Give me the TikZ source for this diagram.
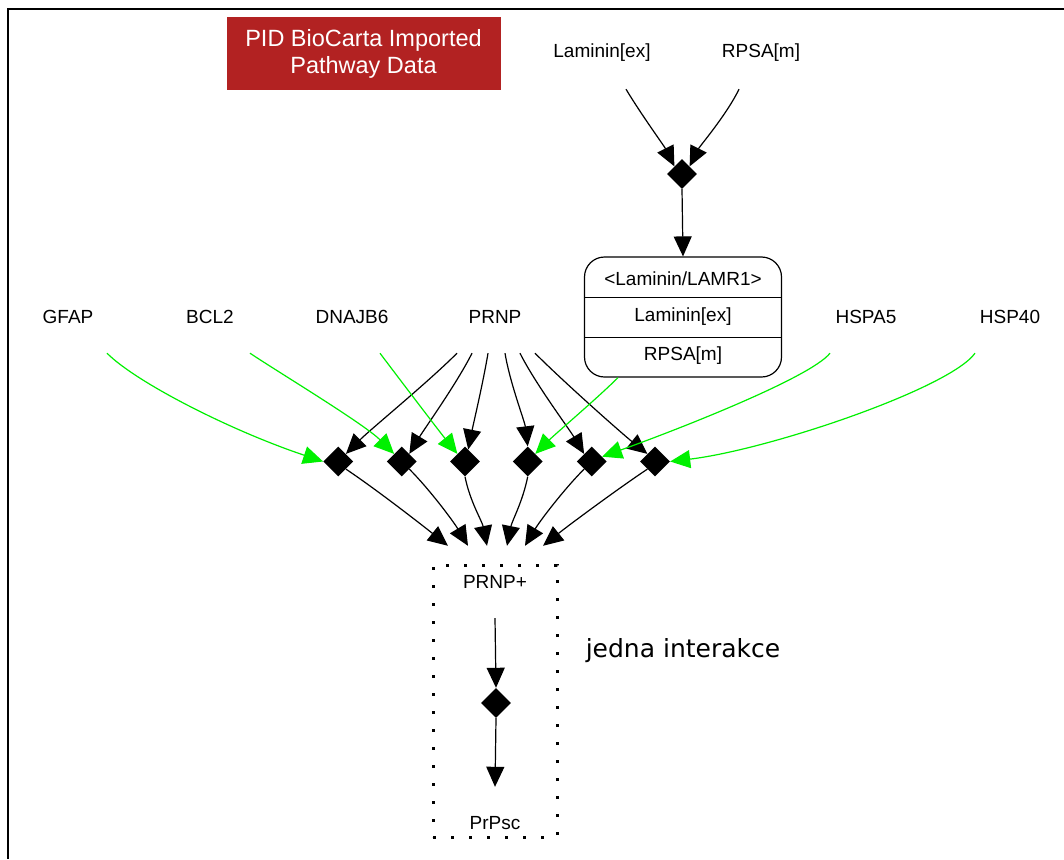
\documentclass[tikz,border=0pt]{standalone}
\usepackage{fontspec}
\setmainfont{Liberation Sans}
\newfontfamily\notefont{DejaVu Sans}
\usetikzlibrary{shapes.geometric,arrows.meta,calc}
\definecolor{pidred}{RGB}{178,34,34}
\definecolor{actgreen}{RGB}{0,240,0}
\tikzset{
  lbl/.style={font=\fontsize{19}{22}\selectfont, minimum height=72pt, inner sep=0pt},
  txt/.style={font=\fontsize{19}{22}\selectfont, inner sep=0pt},
  rxn/.style={diamond, fill=black, inner sep=0pt, minimum width=30pt, minimum height=30pt},
  edge/.style={line width=1.2pt, -{Triangle[length=20pt,width=18pt]}},
  actv/.style={edge, draw=actgreen},
  thin line/.style={line width=1.2pt},
}
\begin{document}
\begin{tikzpicture}[x=1pt,y=-1pt]
\useasboundingbox (0,0) rectangle (1064,859);
\fill[white] (0,0) rectangle (1064,859);
\draw[line width=2.5pt] (1064,9) -- (8,9) -- (8,859);

% title box
\node[fill=pidred, text=white, minimum width=274pt, minimum height=72pt, inner sep=0pt,
      align=center, font=\fontsize{23.5}{27}\selectfont] (pid) at (363.5,53.5)
      {PID BioCarta Imported\\Pathway Data};

% top reaction
\node[lbl] (lam) at (602,53) {Laminin[ex]};
\node[lbl] (rpsa) at (761,53) {RPSA[m]};
\node[rxn] (d0) at (682,174) {};
\draw[edge] ($(lam.south)+(24,0)$) .. controls +(15,25) and +(-10,-20) .. (d0.north west);
\draw[edge] ($(rpsa.south)+(-22,0)$) .. controls +(-12,25) and +(10,-20) .. (d0.north east);

% complex
\node[draw, thin line, rounded corners=20pt, minimum width=197pt, minimum height=120pt, inner sep=0pt] (cx) at (683,317) {};
\draw[thin line] ($(cx.north west)+(0,41)$) -- ($(cx.north east)+(0,41)$);
\draw[thin line] ($(cx.north west)+(0,81)$) -- ($(cx.north east)+(0,81)$);
\node[txt] (cxa) at (683,279) {<Laminin/LAMR1>};
\node[txt] (cxb) at (683,317) {Laminin[ex]};
\node[txt] (cxc) at (683,356) {RPSA[m]};
\draw[edge] (d0.south) -- (cx.north);

% row of labels
\node[lbl] (gfap) at (68,317) {GFAP};
\node[lbl] (bcl2) at (210,317) {BCL2};
\node[lbl] (dnajb6) at (352,317) {DNAJB6};
\node[lbl] (prnp) at (495,317) {PRNP};
\node[lbl] (hspa5) at (866,317) {HSPA5};
\node[lbl] (hsp40) at (1010,317) {HSP40};

% reactions
\node[rxn] (d1) at (338.3,461.5) {};
\node[rxn] (d2) at (401.7,461.5) {};
\node[rxn] (d3) at (465,461.5) {};
\node[rxn] (d4) at (527.7,461.5) {};
\node[rxn] (d5) at (591.7,461.5) {};
\node[rxn] (d6) at (655,461.5) {};

% PRNP inputs
\draw[edge] ($(prnp.south)+(-38,0)$) .. controls +(-30,30) and +(25,-25) .. (d1.north east);
\draw[edge] ($(prnp.south)+(-23,0)$) .. controls +(-15,30) and +(15,-25) .. (d2.north east);
\draw[edge] ($(prnp.south)+(-7,0)$) .. controls +(-5,30) and +(5,-25) .. (d3.75);
\draw[edge] ($(prnp.south)+(10,0)$) .. controls +(5,30) and +(-3,-25) .. (d4.north);
\draw[edge] ($(prnp.south)+(25,0)$) .. controls +(15,30) and +(-15,-25) .. (d5.north west);
\draw[edge] ($(prnp.south)+(40,0)$) .. controls +(30,30) and +(-25,-20) .. (d6.north west);

% green modifiers
\draw[actv] ($(gfap.south)+(39,0)$) .. controls +(30,30) and +(-90,-30) .. (d1.west);
\draw[actv] ($(bcl2.south)+(40,0)$) .. controls +(30,20) and +(-30,-30) .. (d2.north west);
\draw[actv] ($(dnajb6.south)+(28,0)$) .. controls +(15,20) and +(-20,-25) .. (d3.north west);
\draw[actv] ($(cx.south)+(-65,0)$) .. controls +(-20,20) and +(20,-20) .. (d4.north east);
\draw[actv] ($(hspa5.south)+(-36,0)$) .. controls +(-20,25) and +(70,-25) .. (d5.25);
\draw[actv] ($(hsp40.south)+(-35,0)$) .. controls +(-25,35) and +(100,-12) .. (d6.east);

% group box and inner reaction
\node[draw, line width=3pt, dash pattern=on 3pt off 15pt, minimum width=124pt, minimum height=272pt, inner sep=0pt] (grp) at (495,701) {};
\node[lbl] (pp) at (495,582) {PRNP+};
\node[rxn] (dz) at (496,703) {};
\node[lbl] (prpsc) at (495,823) {PrPsc};
\draw[edge] (pp.south) -- (dz.north);
\draw[edge] (dz.south) -- (prpsc.north);

% outputs to PRNP+
\draw[edge] (d1.south east) .. controls +(30,20) and +(-25,-20) .. ($(pp.north)+(-47,0)$);
\draw[edge] (d2.south east) .. controls +(20,20) and +(-15,-25) .. ($(pp.north)+(-27,0)$);
\draw[edge] (d3.south) .. controls +(5,25) and +(-5,-25) .. ($(pp.north)+(-8,0)$);
\draw[edge] (d4.south) .. controls +(-5,25) and +(5,-25) .. ($(pp.north)+(12,0)$);
\draw[edge] (d5.south west) .. controls +(-20,20) and +(15,-25) .. ($(pp.north)+(30,0)$);
\draw[edge] (d6.south west) .. controls +(-30,20) and +(25,-20) .. ($(pp.north)+(48,0)$);

\node[font=\notefont\fontsize{25}{30}\selectfont, inner sep=0pt] (note) at (683,651) {jedna interakce};
\end{tikzpicture}
\end{document}
